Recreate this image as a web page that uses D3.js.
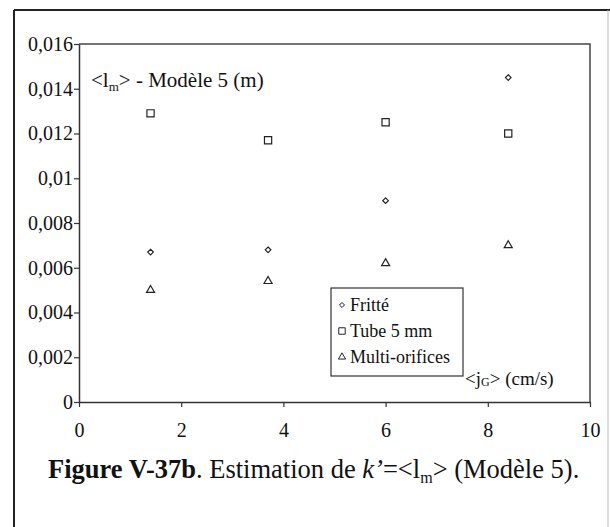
<!DOCTYPE html>
<html>
    <head>
        <script src="https://d3js.org/d3.v7.min.js"></script>
        <style>
            body{ margin:0; background:#fff; }
            text{ font-family:"Liberation Serif", "Times New Roman", serif; fill:#111; }
        </style>
    </head>
    <body>
        <svg height="527" width="610" id="chart"></svg>
        <script>
            // data
            const jG=[1.4, 3.7, 6, 8.4];
            const fritte=[0.0067, 0.0068, 0.009, 0.0145];
            const tube=[0.0129, 0.0117, 0.0125, 0.012];
            const multi=[0.005, 0.0054, 0.0062, 0.007];
            const seriesNames=["Fritté", "Tube 5 mm", "Multi-orifices"];
            const xTicks=[0, 2, 4, 6, 8, 10];
            const yTicks=[0, 0.002, 0.004, 0.006, 0.008, 0.01, 0.012, 0.014, 0.016];

            let svg=d3.select("#chart");

            // outer frame
            svg.append("line").attr("x1",14).attr("y1",10).attr("x2",610).attr("y2",10)
                .style("stroke","#222").style("stroke-width",2);
            svg.append("line").attr("x1",14).attr("y1",10).attr("x2",14).attr("y2",527)
                .style("stroke","#222").style("stroke-width",2);
            svg.append("line").attr("x1",608).attr("y1",10).attr("x2",608).attr("y2",527)
                .style("stroke","#bbb").style("stroke-width",1);

            let x=d3.scaleLinear().domain([0,10]).range([79,590]);
            let y=d3.scaleLinear().domain([0,0.016]).range([402,44]);

            // plot border (top and right)
            svg.append("path")
                .attr("d", `M${x(0)},${y(0.016)}H${x(10)}V${y(0)}`)
                .style("fill","none").style("stroke","#444").style("stroke-width",1.5);

            let fmt=d=>d===0?"0":String(d).replace(".", ",");

            let xAxis=svg.append("g").attr("transform",`translate(0,${y(0)})`)
                .call(d3.axisBottom(x).tickValues(xTicks).tickSize(5).tickSizeOuter(0).tickPadding(16).tickFormat(d=>d));
            let yAxis=svg.append("g").attr("transform",`translate(${x(0)},0)`)
                .call(d3.axisLeft(y).tickValues(yTicks).tickSize(5).tickSizeOuter(0).tickPadding(1).tickFormat(fmt));
            [xAxis,yAxis].forEach(a=>{
                a.select(".domain").style("stroke","#333").style("stroke-width",1.5);
                a.selectAll(".tick line").style("stroke","#333").style("stroke-width",1.2);
                a.selectAll(".tick text").style("font-family",'"Liberation Serif", serif')
                    .style("font-size","20px").style("fill","#111");
            });

            // markers
            let sym=[d3.symbolDiamond2, d3.symbolSquare, d3.symbolTriangle];
            let sizes=[20, 52, 28];
            let allSeries=[fritte, tube, multi];
            allSeries.forEach((vals,i)=>{
                svg.append("g").selectAll("path").data(vals).join("path")
                    .attr("d", d3.symbol().type(sym[i]).size(sizes[i]))
                    .attr("transform",(d,j)=>`translate(${x(jG[j])},${y(d)})`)
                    .style("fill","none").style("stroke","#222").style("stroke-width",1.2);
            });

            // y title
            let yt=svg.append("text").attr("x",91).attr("y",87).style("font-size","21px");
            yt.append("tspan").text("<l");
            yt.append("tspan").text("m").attr("dy",4).style("font-size","13px");
            yt.append("tspan").text("> - Modèle 5 (m)").attr("dy",-4);

            // x title
            let xt=svg.append("text").attr("x",465).attr("y",385).style("font-size","19px");
            xt.append("tspan").text("<j");
            xt.append("tspan").text("G").attr("dy",1).style("font-size","12px");
            xt.append("tspan").text("> (cm/s)").attr("dy",-1);

            // legend
            let lg=svg.append("g");
            lg.append("rect").attr("x",331).attr("y",288).attr("width",132).attr("height",88)
                .style("fill","#fff").style("stroke","#333").style("stroke-width",1.2);
            seriesNames.forEach((n,i)=>{
                let ly=305+i*26;
                lg.append("path").attr("d", d3.symbol().type(sym[i]).size(sizes[i]*0.8))
                    .attr("transform",`translate(342,${ly})`)
                    .style("fill","none").style("stroke","#222").style("stroke-width",1);
                lg.append("text").attr("x",350).attr("y",ly+6).style("font-size","18px").text(n);
            });

            // caption
            let cap=svg.append("text").attr("x",48).attr("y",478).style("font-size","26.5px");
            cap.append("tspan").text("Figure V-37b").style("font-weight","bold");
            cap.append("tspan").text(". Estimation de ");
            cap.append("tspan").text("k’").style("font-style","italic");
            cap.append("tspan").text("=<l");
            cap.append("tspan").text("m").attr("dy",5).style("font-size","16px");
            cap.append("tspan").text("> (Modèle 5).").attr("dy",-5);
        </script>
    </body>
</html>
